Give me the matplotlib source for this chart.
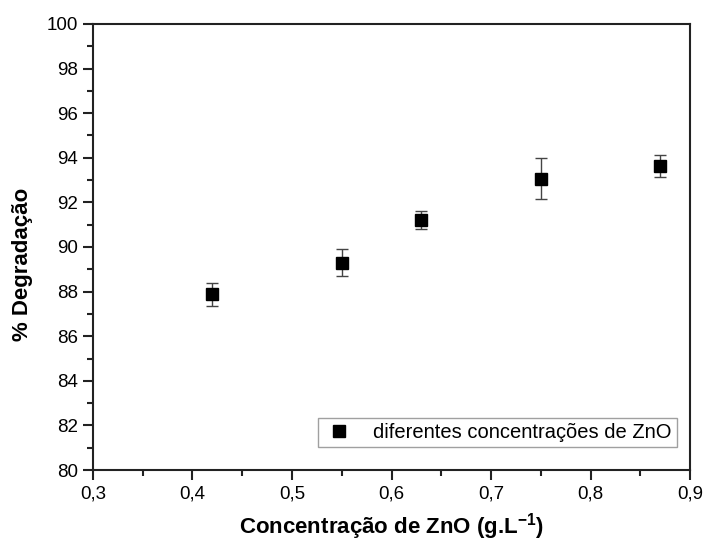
import matplotlib
matplotlib.use("Agg")
import matplotlib.pyplot as plt
from matplotlib.lines import Line2D
from matplotlib.ticker import MultipleLocator, FuncFormatter

plt.rcParams['font.family'] = ['Liberation Sans', 'DejaVu Sans']
plt.rcParams['mathtext.default'] = 'regular'

# ZnO concentration (g/L) vs. degradation (%)
concentracao = [0.42, 0.55, 0.63, 0.75, 0.87]
degradacao = [87.87, 89.30, 91.22, 93.05, 93.63]
erro = [0.50, 0.60, 0.40, 0.92, 0.50]

fig = plt.figure(figsize=(7.07, 5.42), dpi=100)
ax = fig.add_axes([0.1315, 0.1328, 0.8445, 0.823])

ax.errorbar(concentracao, degradacao, yerr=erro, fmt='s', color='black',
            markersize=8.5, ecolor='#444444', elinewidth=1.0, capsize=4,
            capthick=1.0)

ax.set_xlim(0.3, 0.9)
ax.set_ylim(80, 100)
ax.xaxis.set_major_locator(MultipleLocator(0.1))
ax.xaxis.set_minor_locator(MultipleLocator(0.05))
ax.yaxis.set_major_locator(MultipleLocator(2))
ax.yaxis.set_minor_locator(MultipleLocator(1))
ax.xaxis.set_major_formatter(FuncFormatter(lambda v, p: f"{v:.1f}".replace('.', ',')))
ax.yaxis.set_major_formatter(FuncFormatter(lambda v, p: f"{v:.0f}"))

for s in ax.spines.values():
    s.set_linewidth(1.5)
    s.set_color('#222222')
ax.tick_params(which='major', direction='out', length=7, width=1.5,
               labelsize=13.5, color='#222222', pad=4)
ax.tick_params(which='minor', direction='out', length=4, width=1.5, color='#222222')

ax.set_xlabel('Concentração de ZnO (g.L$^{-1}$)', fontsize=16, fontweight='bold', labelpad=6)
ax.set_ylabel('% Degradação', fontsize=16, fontweight='bold')
ax.yaxis.set_label_coords(-0.1005, 0.462)

handle = Line2D([], [], marker='s', linestyle='none', color='black', markersize=8.5)
leg = ax.legend([handle], ['diferentes concentrações de ZnO'], loc='lower right',
                bbox_to_anchor=(0.978, 0.052), fontsize=14.5,
                frameon=True, fancybox=False, handletextpad=0.9,
                borderpad=0.25, handlelength=1.6, borderaxespad=0)
leg.get_frame().set_edgecolor('#888888')
leg.get_frame().set_linewidth(1.0)

fig.savefig('out.png', dpi=100)
